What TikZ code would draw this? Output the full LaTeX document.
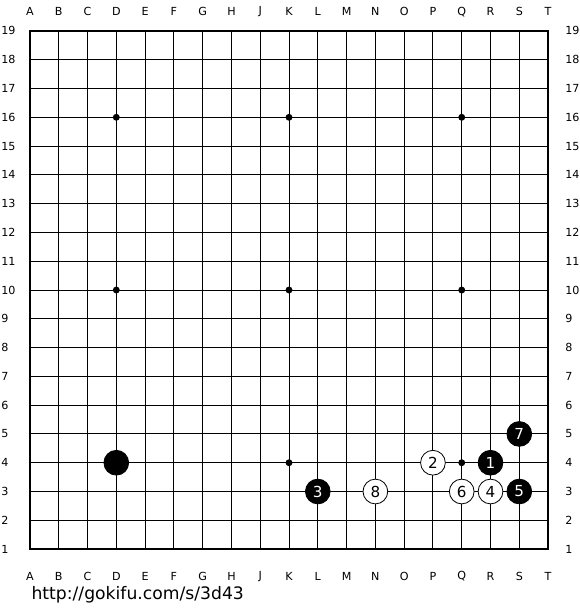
\documentclass[tikz,border=0pt]{standalone}
\usepackage{fontspec}
\setmainfont{DejaVu Sans}

\tikzset{
	bstone/.style = {circle, fill = black, draw = black, line width = 0.8pt, minimum size = 0.86 cm, inner sep = 0pt, text = white, font = \fontsize{15}{15}\selectfont},
	wstone/.style = {bstone, fill = white, text = black},
	boardlabel/.style = {font = \fontsize{11}{12}\selectfont, inner sep = 0pt}
}

\begin{document}
\begin{tikzpicture}
	\useasboundingbox (-1.04, -2.116) rectangle (19.08, 19.075);
	\fill[white] (-1.04, -2.116) rectangle (19.08, 19.075);
	
	\foreach \x in {1, ..., 17}
	\draw[line width = 0.9 pt] (\x, 0) -- (\x, 18);
	\foreach \y in {1, ..., 17}
	\draw[line width = 0.9 pt] (0, \y) -- (18, \y);
	\draw[line width = 2.4 pt] (0, 0) rectangle (18, 18);
	
	\foreach \x in {3, 9, 15}
	\foreach \y in {3, 9, 15}
	\fill (\x, \y) circle (0.12);
	
	\foreach \c [count = \i from 0] in {A, B, C, D, E, F, G, H, J, K, L, M, N, O, P, Q, R, S, T}
	{
		\node[boardlabel] (top\c) at (\i, 18.66) {\c};
		\node[boardlabel] (bot\c) at (\i, -0.94) {\c};
	}
	\foreach \r in {1, ..., 19}
	{
		\node[boardlabel, anchor = west] (left\r) at (-1.0, \r - 1) {\r};
		\node[boardlabel, anchor = west] (right\r) at (18.59, \r - 1) {\r};
	}
	
	\node[bstone] (D4) at (3, 3) {};
	\node[bstone] (R4) at (16, 3) {1};
	\node[wstone] (P4) at (14, 3) {2};
	\node[bstone] (L3) at (10, 2) {3};
	\node[wstone] (R3) at (16, 2) {4};
	\node[bstone] (S3) at (17, 2) {5};
	\node[wstone] (Q3) at (15, 2) {6};
	\node[bstone] (S5) at (17, 4) {7};
	\node[wstone] (N3) at (12, 2) {8};
	
	\node[anchor = west, inner sep = 0pt, font = \fontsize{17}{20}\selectfont] (url) at (0.05, -1.6) {http://gokifu.com/s/3d43};
\end{tikzpicture}
\end{document}
